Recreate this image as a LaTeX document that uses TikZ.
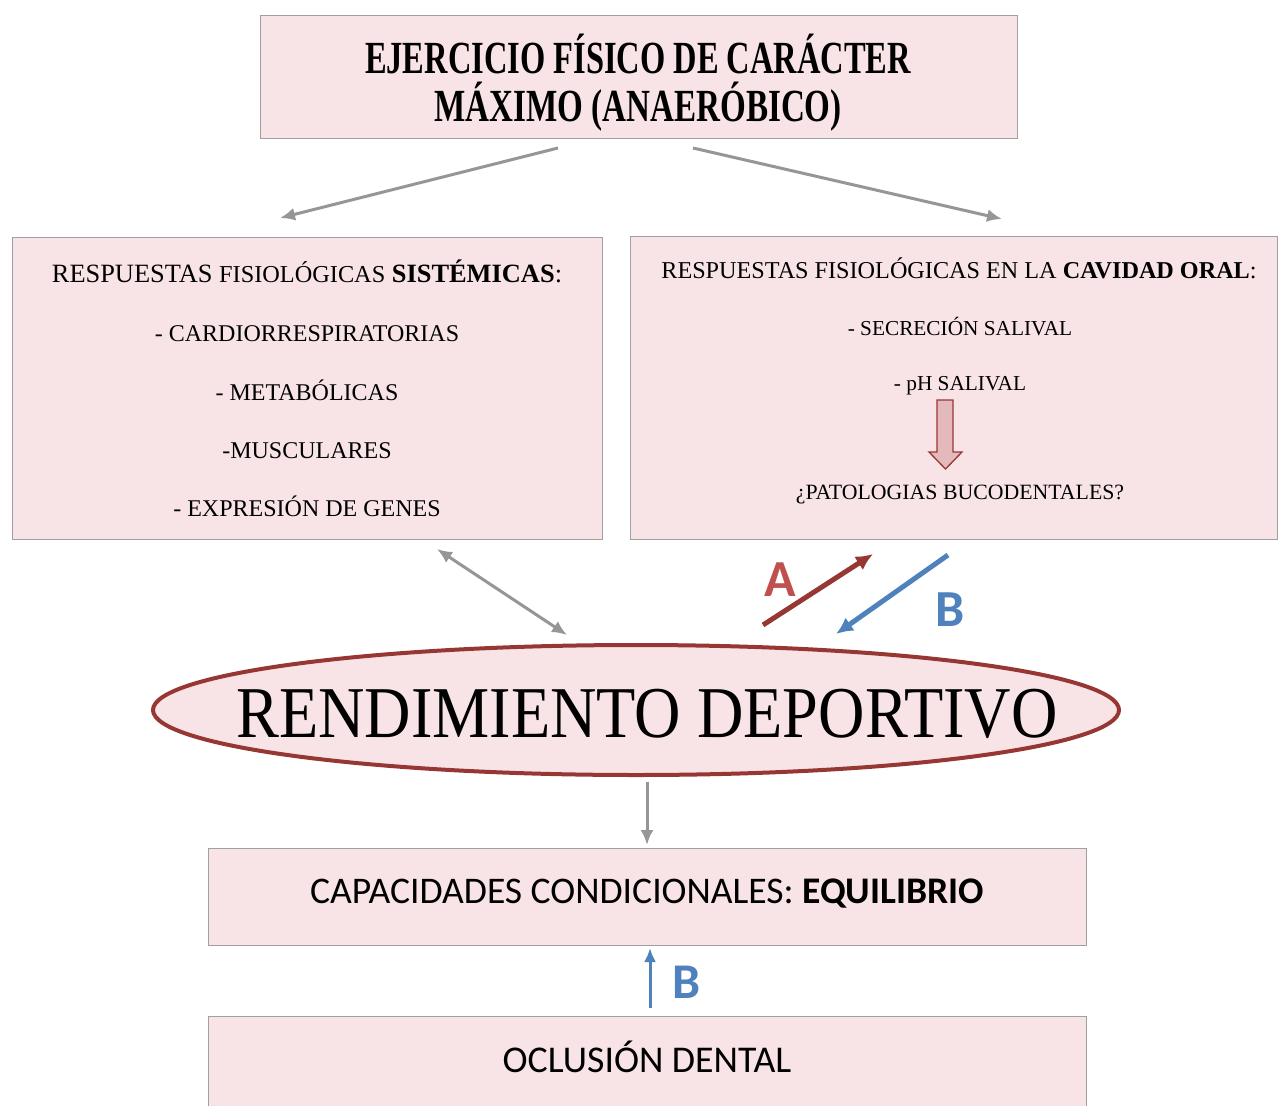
\documentclass[tikz,border=0pt]{standalone}
\usepackage{fontspec}
\usepackage{graphicx}
\setmainfont{Liberation Serif}[BoldFont={Liberation Serif Bold}]
\newfontfamily\carl{Carlito}[BoldFont={Carlito Bold}]
\usetikzlibrary{arrows.meta,shapes.geometric}
\definecolor{boxpink}{RGB}{248,228,230}
\definecolor{boxgray}{RGB}{160,160,160}
\definecolor{arrgray}{RGB}{150,150,150}
\definecolor{darkred}{RGB}{150,55,52}
\definecolor{labred}{RGB}{192,80,77}
\definecolor{blueB}{RGB}{79,129,189}
\definecolor{blockfill}{RGB}{228,185,188}
\tikzset{
  pinkbox/.style={draw=boxgray, line width=1.3pt, fill=boxpink},
  txt/.style={anchor=base, inner sep=0pt, text=black},
  grayarrow/.style={draw=arrgray, line width=3pt, -{Latex[length=15pt,width=13pt]}},
  redarrow/.style={draw=darkred, line width=5pt, -{Latex[length=17pt,width=16pt]}},
  bluearrow/.style={draw=blueB, line width=5pt, -{Latex[length=17pt,width=16pt]}},
  bluethin/.style={draw=blueB, line width=3pt, -{Latex[length=14pt,width=12pt]}},
}
\newcommand{\fs}[1]{\fontsize{#1}{#1}\selectfont}
\begin{document}
\begin{tikzpicture}[x=1pt,y=-1pt]
\useasboundingbox (0,0) rectangle (1278,1106);
% boxes
\node[pinkbox, rectangle, anchor=north west, minimum width=757pt, minimum height=123pt, inner sep=0pt] (top) at (260,15) {};
\node[pinkbox, rectangle, anchor=north west, minimum width=590pt, minimum height=302pt, inner sep=0pt] (left) at (12,237) {};
\node[pinkbox, rectangle, anchor=north west, minimum width=647pt, minimum height=303pt, inner sep=0pt] (right) at (630,236) {};
\node[draw=darkred, line width=4pt, fill=boxpink, ellipse, minimum width=966pt, minimum height=130pt, inner sep=0pt] (rend) at (636,710) {};
\node[pinkbox, rectangle, anchor=north west, minimum width=878pt, minimum height=97pt, inner sep=0pt] (cap) at (208,848) {};
\node[pinkbox, rectangle, anchor=north west, minimum width=878pt, minimum height=110pt, inner sep=0pt] (ocl) at (208,1016) {};
% title
\node[txt] (t1) at (638,73) {\scalebox{0.706}[1]{\fs{46}\bfseries EJERCICIO FÍSICO DE CARÁCTER}};
\node[txt] (t2) at (638,121) {\scalebox{0.72}[1]{\fs{46}\bfseries MÁXIMO (ANAERÓBICO)}};
% left box
\node[txt] (l0) at (307,282) {\fs{26.4}RESPUESTAS {\fs{24.3}FISIOLÓGICAS} {\bfseries SISTÉMICAS}:};
\node[txt] (l1) at (307,341) {\fs{24}- CARDIORRESPIRATORIAS};
\node[txt] (l2) at (307,400) {\fs{24}- METABÓLICAS};
\node[txt] (l3) at (307,458) {\fs{24}-MUSCULARES};
\node[txt] (l4) at (307,516) {\fs{24}- EXPRESIÓN DE GENES};
% right box
\node[txt] (r0) at (959,278) {\fs{24.2}RESPUESTAS FISIOLÓGICAS EN LA {\bfseries CAVIDAD ORAL}:};
\node[txt] (r1) at (960,335) {\fs{21.3}- SECRECIÓN SALIVAL};
\node[txt] (r2) at (960,390) {\fs{21.3}- pH SALIVAL};
\node[txt] (r3) at (960,499) {\fs{21.8}¿PATOLOGIAS BUCODENTALES?};
\draw[draw=darkred, line width=1.3pt, fill=blockfill] (937,400) -- (953,400) -- (953,452) -- (962,452) -- (945.5,469) -- (929,452) -- (937,452) -- cycle;
% ellipse text
\node[txt] (rt) at (647,737) {\scalebox{0.88}[1]{\fs{73}RENDIMIENTO DEPORTIVO}};
% bottom boxes text
\node[txt] (ct) at (647,903) {\carl\fs{37.6}CAPACIDADES CONDICIONALES: {\bfseries EQUILIBRIO}};
\node[txt] (ot) at (647,1072) {\carl\fs{37.8}OCLUSIÓN DENTAL};
% connector end points
\coordinate (a1s) at (558,148); \coordinate (a1e) at (280,218);
\coordinate (a2s) at (693,148); \coordinate (a2e) at (1002,219);
\coordinate (dbs) at (437,549); \coordinate (dbe) at (567,635);
\coordinate (ras) at (763,625); \coordinate (rae) at (873,554);
\coordinate (bas) at (948,555); \coordinate (bae) at (836,634);
\coordinate (gds) at (647,782); \coordinate (gde) at (647,845);
\coordinate (bus) at (650,1008); \coordinate (bue) at (650,948);
\draw[grayarrow] (a1s) -- (a1e);
\draw[grayarrow] (a2s) -- (a2e);
\draw[grayarrow, {Latex[length=15pt,width=13pt]}-{Latex[length=15pt,width=13pt]}] (dbs) -- (dbe);
\draw[redarrow] (ras) -- (rae);
\draw[bluearrow] (bas) -- (bae);
\draw[grayarrow] (gds) -- (gde);
\draw[bluethin] (bus) -- (bue);
% labels
\node[text=labred, inner sep=0pt] (lA) at (780,580) {\carl\fs{52}\bfseries A};
\node[text=blueB, inner sep=0pt] (lB1) at (950,610) {\carl\fs{52}\bfseries B};
\node[text=blueB, inner sep=0pt] (lB2) at (687,982) {\carl\fs{50}\bfseries B};
\end{tikzpicture}
\end{document}
